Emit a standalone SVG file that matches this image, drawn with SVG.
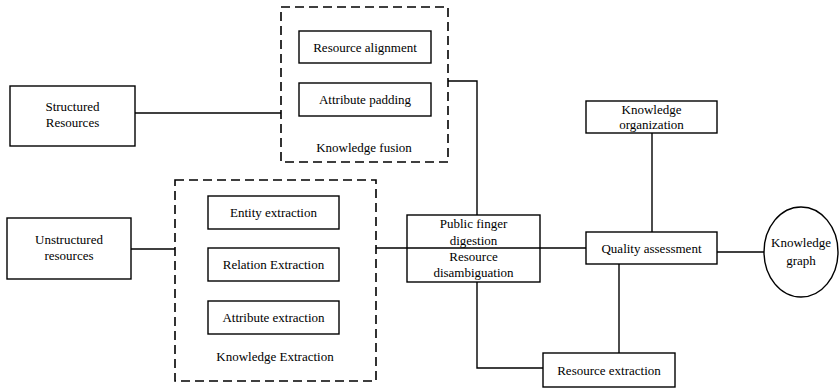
<svg xmlns="http://www.w3.org/2000/svg" width="839" height="388" viewBox="0 0 839 388" font-family="'Liberation Serif', 'DejaVu Serif', 'Times New Roman', serif" font-size="13">
<style>
.box{fill:#fff;stroke:#000;stroke-width:1.4}
.grp{fill:none;stroke:#000;stroke-width:1.6;stroke-dasharray:9,5}
.ln{fill:none;stroke:#000;stroke-width:1.4}
text{fill:#000;text-anchor:middle}
</style>
<rect width="839" height="388" fill="#fff"/>
<g id="connectors">
<path class="ln" d="M135,113 H281"/>
<path class="ln" d="M131,249 H175"/>
<path class="ln" d="M448,81 H477 V215"/>
<path class="ln" d="M652,133 V232"/>
<path class="ln" d="M717,252 H764"/>
<path class="ln" d="M619,264 V353"/>
<path class="ln" d="M477,282 V368 H543"/>
</g>
<g id="knowledge-fusion">
<rect class="grp" x="281" y="7" width="167" height="155"/>
<text x="364" y="152">Knowledge fusion</text>
</g>
<g id="resource-alignment">
<rect class="box" x="299" y="31" width="132" height="32"/>
<text x="365" y="51.5">Resource alignment</text>
</g>
<g id="attribute-padding">
<rect class="box" x="299" y="83" width="132" height="33"/>
<text x="365" y="104">Attribute padding</text>
</g>
<g id="structured-resources">
<rect class="box" x="10" y="86" width="125" height="60"/>
<text x="72.5" y="111">Structured</text>
<text x="72.5" y="127">Resources</text>
</g>
<g id="knowledge-extraction">
<rect class="grp" x="175" y="180" width="201" height="201"/>
<text x="275" y="361">Knowledge Extraction</text>
</g>
<g id="entity-extraction">
<rect class="box" x="208" y="196" width="131" height="33"/>
<text x="273.5" y="217">Entity extraction</text>
</g>
<g id="relation-extraction">
<rect class="box" x="208" y="248" width="131" height="33"/>
<text x="273.5" y="269">Relation Extraction</text>
</g>
<g id="attribute-extraction">
<rect class="box" x="208" y="301" width="131" height="33"/>
<text x="273.5" y="322">Attribute extraction</text>
</g>
<g id="unstructured-resources">
<rect class="box" x="7" y="218" width="124" height="61"/>
<text x="69" y="244">Unstructured</text>
<text x="69" y="260">resources</text>
</g>
<g id="public-finger-digestion">
<rect class="box" x="407" y="215" width="133" height="67"/>
<text x="473.5" y="228">Public finger</text>
<text x="473.5" y="245">digestion</text>
<text x="473.5" y="261">Resource</text>
<text x="473.5" y="277">disambiguation</text>
</g>
<g id="connector-main">
<path class="ln" d="M376,248 H586"/>
</g>
<g id="knowledge-organization">
<rect class="box" x="586" y="101" width="131" height="32"/>
<text x="651.5" y="114">Knowledge</text>
<text x="651.5" y="129">organization</text>
</g>
<g id="quality-assessment">
<rect class="box" x="586" y="232" width="131" height="32"/>
<text x="651.5" y="252.5">Quality assessment</text>
</g>
<g id="resource-extraction">
<rect class="box" x="543" y="353" width="132" height="34"/>
<text x="609" y="374.5">Resource extraction</text>
</g>
<g id="knowledge-graph">
<ellipse class="box" cx="801" cy="252" rx="37" ry="45"/>
<text x="801" y="247">Knowledge</text>
<text x="801" y="265">graph</text>
</g>
</svg>
